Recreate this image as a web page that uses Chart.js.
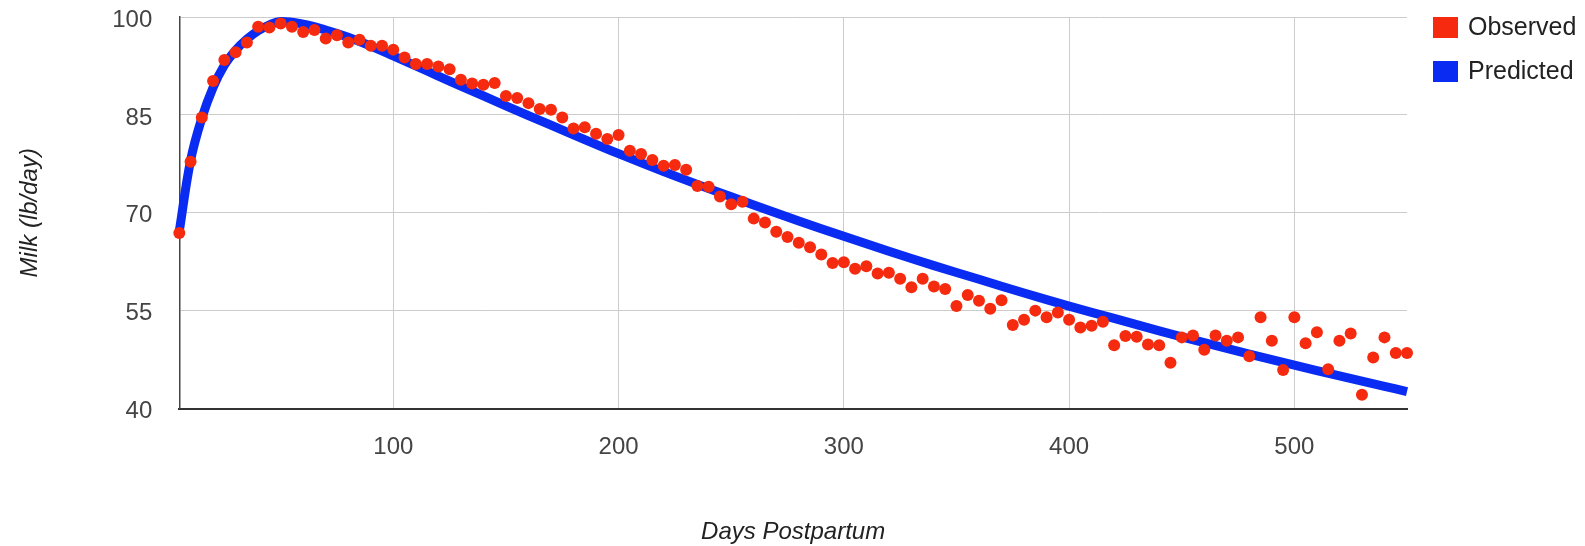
<!DOCTYPE html>
<html>
<head>
<meta charset="utf-8">
<script src="https://cdn.jsdelivr.net/npm/chart.js@4.4.0/dist/chart.umd.min.js"></script>
<style>
  body { margin: 0; background: #fff; }
  #wrap { width: 1585px; height: 546px; }
</style>
</head>
<body>
<div id="wrap"><canvas id="grafica" width="1585" height="546"></canvas></div>
<script>
// datos
const diasObs = [5, 10, 15, 20, 25, 30, 35, 40, 45, 50, 55, 60, 65, 70, 75, 80, 85, 90, 95, 100,
  105, 110, 115, 120, 125, 130, 135, 140, 145, 150, 155, 160, 165, 170, 175, 180, 185, 190, 195, 200,
  205, 210, 215, 220, 225, 230, 235, 240, 245, 250, 255, 260, 265, 270, 275, 280, 285, 290, 295, 300,
  305, 310, 315, 320, 325, 330, 335, 340, 345, 350, 355, 360, 365, 370, 375, 380, 385, 390, 395, 400,
  405, 410, 415, 420, 425, 430, 435, 440, 445, 450, 455, 460, 465, 470, 475, 480, 485, 490, 495, 500,
  505, 510, 515, 520, 525, 530, 535, 540, 545, 550];
const lecheObs = [66.9, 77.8, 84.6, 90.2, 93.4, 94.6, 96.1, 98.5, 98.4, 99.0, 98.5, 97.7, 98.0, 96.7, 97.2, 96.1, 96.5, 95.6, 95.6, 95.0,
  93.8, 92.8, 92.8, 92.4, 92.0, 90.4, 89.8, 89.6, 89.9, 87.9, 87.6, 86.8, 85.9, 85.8, 84.6, 82.9, 83.1, 82.1, 81.3, 81.9,
  79.5, 79.0, 78.1, 77.2, 77.3, 76.6, 74.1, 74.0, 72.5, 71.3, 71.7, 69.1, 68.5, 67.1, 66.3, 65.4, 64.7, 63.6, 62.3, 62.4,
  61.4, 61.8, 60.7, 60.8, 59.9, 58.6, 59.9, 58.7, 58.3, 55.7, 57.4, 56.5, 55.3, 56.6, 52.8, 53.6, 55.0, 54.0, 54.7, 53.6,
  52.4, 52.7, 53.3, 49.7, 51.1, 51.0, 49.8, 49.7, 47.0, 50.9, 51.2, 49.0, 51.2, 50.4, 50.9, 48.0, 54.0, 50.4, 45.9, 54.0,
  50.0, 51.7, 46.0, 50.4, 51.5, 42.1, 47.8, 50.9, 48.5, 48.5];

const diasPred = [5, 10, 15, 20, 25, 30, 35, 40, 45, 50, 60, 70, 80, 90, 100, 110, 120, 140, 160, 180, 200,
  220, 240, 260, 280, 300, 320, 340, 360, 380, 400, 420, 440, 460, 480, 500, 520, 540, 550];
const lechePred = [67.2, 78.0, 84.5, 89.2, 92.6, 94.9, 96.6, 97.9, 98.8, 99.3, 98.9, 98.0, 96.9, 95.55, 94.05, 92.5, 90.95,
  87.9, 84.9, 81.95, 79.05, 76.3, 73.7, 71.2, 68.75, 66.4, 64.1, 61.9, 59.8, 57.7, 55.7, 53.8, 51.9, 50.1, 48.35,
  46.65, 45.0, 43.4, 42.6];

const ticksX = [100, 200, 300, 400, 500];
const ticksY = [40, 55, 70, 85, 100];

const fuente = '"Liberation Sans", Arial, sans-serif';
const rojo = '#f52a0f';
const azul = '#0a2cf2';

// leyenda a la derecha, dibujada a mano
const leyenda = {
  id: 'leyendaLateral',
  afterDraw(chart) {
    const ctx = chart.ctx;
    ctx.save();
    ctx.font = '25px ' + fuente;
    ctx.textBaseline = 'middle';
    chart.data.datasets.forEach((ds, i) => {
      const cy = 28 + i * 44;
      ctx.fillStyle = ds.backgroundColor;
      ctx.fillRect(1433, cy - 11, 25, 21);
      ctx.fillStyle = '#222';
      ctx.fillText(ds.label, 1468, cy);
    });
    ctx.restore();
  }
};

const ctx = document.getElementById('grafica').getContext('2d');
const grafica = new Chart(ctx, {
  type: 'scatter',
  data: {
    datasets: [{
      label: 'Observed',
      data: diasObs.map((d, i) => ({ x: d, y: lecheObs[i] })),
      backgroundColor: rojo,
      borderColor: rojo,
      pointRadius: 6,
      pointBorderWidth: 0,
      clip: false,
      order: 0
    }, {
      label: 'Predicted',
      data: diasPred.map((d, i) => ({ x: d, y: lechePred[i] })),
      showLine: true,
      backgroundColor: azul,
      borderColor: azul,
      borderWidth: 9,
      pointRadius: 0,
      tension: 0.4,
      clip: false,
      order: 1
    }]
  },
  options: {
    responsive: false,
    animation: false,
    layout: { padding: { top: 17, right: 178, left: 0, bottom: 0 } },
    plugins: {
      legend: { display: false },
      tooltip: { enabled: false }
    },
    scales: {
      x: {
        type: 'linear',
        min: 5,
        max: 550,
        afterBuildTicks: s => { s.ticks = ticksX.map(v => ({ value: v })); },
        afterFit: s => { s.height = 137.5; },
        grid: { color: '#cccccc', lineWidth: 1, drawTicks: false },
        border: { color: '#333', width: 2 },
        ticks: { padding: 24, color: '#444', font: { family: fuente, size: 24 } },
        title: {
          display: true,
          text: 'Days Postpartum',
          color: '#222',
          padding: 0,
          font: { family: fuente, size: 24, style: 'italic', lineHeight: 1.1 }
        }
      },
      y: {
        min: 40,
        max: 100,
        afterBuildTicks: s => { s.ticks = ticksY.map(v => ({ value: v })); },
        afterFit: s => { s.width = 179.3; s.paddingTop = 0; s.paddingBottom = 0; },
        grid: { color: '#cccccc', lineWidth: 1, drawTicks: false },
        border: { color: '#444', width: 1.5 },
        ticks: { padding: 27, labelOffset: 3, color: '#444', font: { family: fuente, size: 24, lineHeight: 0.1 } },
        title: {
          display: true,
          text: 'Milk (lb/day)',
          color: '#222',
          padding: { top: 16, bottom: 0 },
          font: { family: fuente, size: 24, style: 'italic', lineHeight: 1.2 }
        }
      }
    }
  },
  plugins: [leyenda]
});
</script>
</body>
</html>
